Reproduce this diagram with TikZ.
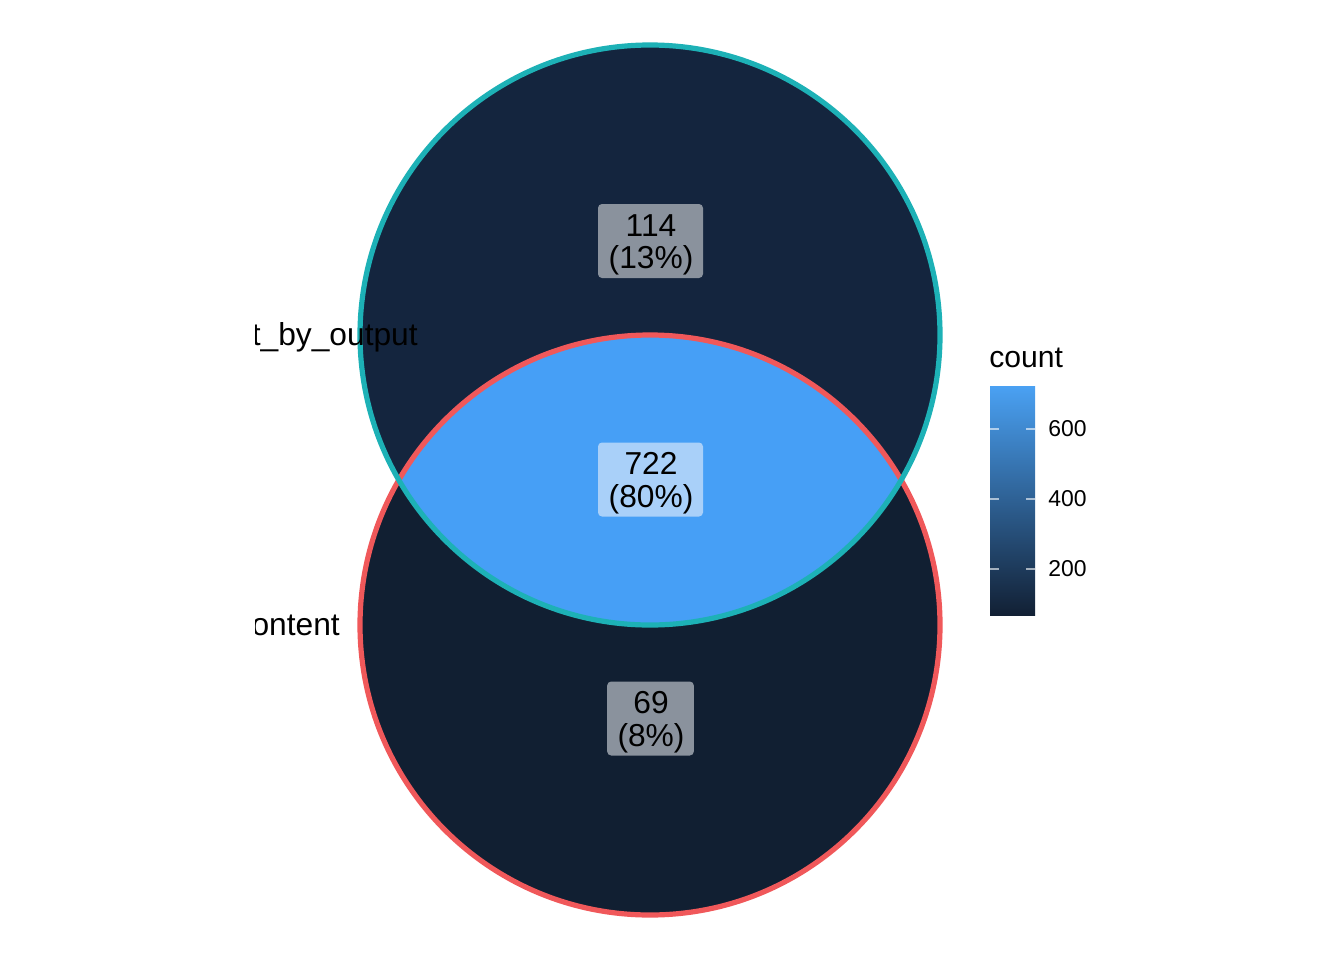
\documentclass[tikz,border=0pt]{standalone}
\usepackage{fontspec}
\setmainfont{Liberation Sans}
\usetikzlibrary{positioning}
\definecolor{vnTop}{HTML}{14253E}
\definecolor{vnBottom}{HTML}{111F32}
\definecolor{vnBoth}{HTML}{469FF6}
\definecolor{vnTeal}{HTML}{1DB1B6}
\definecolor{vnRed}{HTML}{F0585A}
\definecolor{vnLow}{HTML}{122034}
\definecolor{vnHigh}{HTML}{4AA1F3}
\definecolor{vnBoxDark}{HTML}{8A929D}
\definecolor{vnBoxLight}{HTML}{A9D0F9}
\tikzset{
  rim/.style      = {line width=3.9pt},
  countbg/.style  = {rounded corners=3pt, inner sep=0pt,
                     minimum width=78.75pt, minimum height=55.5pt},
  countlbl/.style = {inner sep=0pt, align=center, font=\fontsize{23.8}{24.5}\selectfont},
  setlbl/.style   = {anchor=base east, inner sep=0pt, font=\fontsize{23.8}{24}\selectfont},
  ticklbl/.style  = {anchor=west, inner sep=0pt, font=\fontsize{17.2}{18}\selectfont},
  tickmark/.style = {white, opacity=0.6, line width=0.8pt},
}
\begin{document}
\begin{tikzpicture}[x=0.75pt,y=-0.75pt]
  \useasboundingbox (0,0) rectangle (1344,960);
  \coordinate (cTop) at (650,335);
  \coordinate (cBot) at (650,625);
  % regions
  \fill[vnTop] (cTop) circle[radius=290];
  \fill[vnBottom] (cBot) circle[radius=290];
  \begin{scope}
    \clip (cTop) circle[radius=290];
    \fill[vnBoth] (cBot) circle[radius=290];
  \end{scope}
  \draw[rim, vnRed] (cBot) circle[radius=290];
  \draw[rim, vnTeal] (cTop) circle[radius=290];
  % set names, cut at the left edge of the panel
  \begin{scope}
    \clip (255,0) rectangle (1344,960);
    \node[setlbl] (nameTop) at (418,345) {sort\_by\_output};
    \node[setlbl] (nameBot) at (340,635) {content};
  \end{scope}
  % counts
  \node[countbg, fill=vnBoxDark] (onlyTopBg) at (650.5,241) {};
  \node[countbg, fill=vnBoxLight] (bothBg) at (650.5,479.5) {};
  \node[countbg, fill=vnBoxDark, minimum width=65pt] (onlyBotBg) at (650.5,718.5) {};
  \node[countlbl] (onlyTop) at (651,245) {114\\(13\%)};
  \node[countlbl] (both) at (651,483) {722\\(80\%)};
  \node[countlbl] (onlyBot) at (651,722) {69\\(8\%)};
  % legend
  \node[anchor=base west, inner sep=0pt, font=\fontsize{22.6}{24}\selectfont] (legTitle) at (989,367) {count};
  \shade[bottom color=vnLow, top color=vnHigh] (990,615) rectangle (1035,386);
  \foreach \val/\y in {200/569, 400/499, 600/429} {
    \draw[tickmark] (990,\y) -- (999,\y);
    \draw[tickmark] (1026,\y) -- (1035,\y);
    \node[ticklbl] (tick\val) at (1048,\y) {\val};
  }
\end{tikzpicture}
\end{document}
